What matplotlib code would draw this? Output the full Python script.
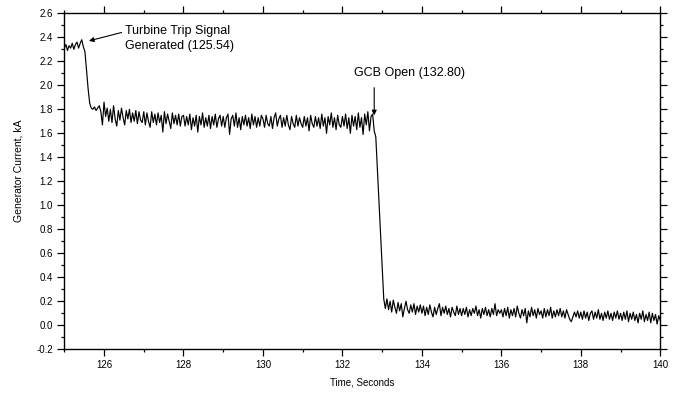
import matplotlib

matplotlib.use("Agg")
import matplotlib.pyplot as plt
import numpy as np
from matplotlib.ticker import MultipleLocator

# sampled generator current (kA), one sample every 0.04 s starting at 125.00 s
T_START = 125.0
T_STEP = 0.04

pre_trip = [2.31, 2.34, 2.29, 2.33, 2.31, 2.35, 2.30, 2.34, 2.36, 2.31,
            2.35, 2.38, 2.32, 2.28]
trip_drop = [2.12, 1.97, 1.85, 1.81]
plateau = [
    1.80, 1.82, 1.79, 1.81, 1.83, 1.78, 1.67,
    1.86, 1.74, 1.81, 1.70, 1.80, 1.69, 1.83, 1.72, 1.66, 1.79, 1.71, 1.81, 1.73,
    1.67, 1.79, 1.72, 1.80, 1.69, 1.77, 1.70, 1.79, 1.68, 1.78, 1.71, 1.69,
    1.78, 1.67, 1.77, 1.70, 1.65, 1.78, 1.69, 1.76, 1.67, 1.77, 1.69, 1.75, 1.61,
    1.78, 1.68, 1.76, 1.70, 1.64, 1.77, 1.68, 1.75, 1.67, 1.76, 1.66, 1.74,
    1.75, 1.66, 1.74, 1.67, 1.76, 1.63, 1.73, 1.66, 1.75, 1.61, 1.74, 1.67, 1.77,
    1.65, 1.73, 1.66, 1.75, 1.64, 1.74, 1.67, 1.76, 1.65, 1.72, 1.75, 1.66,
    1.74, 1.65, 1.73, 1.76, 1.59, 1.72, 1.75, 1.66, 1.77, 1.65, 1.73, 1.63, 1.74,
    1.67, 1.75, 1.66, 1.73, 1.64, 1.76, 1.67, 1.74, 1.65, 1.73, 1.66, 1.75,
    1.72, 1.65, 1.75, 1.68, 1.66, 1.74, 1.64, 1.73, 1.77, 1.66, 1.72, 1.75, 1.65,
    1.73, 1.66, 1.75, 1.67, 1.63, 1.74, 1.68, 1.65, 1.75, 1.66, 1.73, 1.68,
    1.65, 1.74, 1.66, 1.73, 1.62, 1.75, 1.68, 1.65, 1.74, 1.66, 1.73, 1.64, 1.76,
    1.66, 1.73, 1.60, 1.74, 1.67, 1.77, 1.65, 1.73, 1.63, 1.75, 1.67, 1.65,
    1.74, 1.66, 1.76, 1.64, 1.73, 1.60, 1.75, 1.66, 1.74, 1.63, 1.77, 1.65, 1.73,
    1.59, 1.76, 1.67, 1.78, 1.62, 1.74, 1.76,
]
gcb_drop = [1.62, 1.57, 1.30, 1.04, 0.77, 0.50, 0.22, 0.14]
tail = [
    0.22, 0.13, 0.20, 0.11, 0.21, 0.15, 0.10, 0.19, 0.12, 0.18, 0.07, 0.14, 0.20,
    0.13, 0.10, 0.17, 0.11, 0.18, 0.09, 0.16, 0.11, 0.17,
    0.10, 0.16, 0.08, 0.15, 0.09, 0.17, 0.11, 0.07, 0.15, 0.09, 0.14, 0.18, 0.08,
    0.15, 0.10, 0.16, 0.09, 0.14, 0.07, 0.15, 0.11, 0.08, 0.16, 0.09, 0.14,
    0.08, 0.14, 0.09, 0.15, 0.07, 0.13, 0.08, 0.14, 0.10, 0.16, 0.08, 0.13, 0.06,
    0.14, 0.09, 0.15, 0.08, 0.13, 0.07, 0.14, 0.09, 0.18, 0.08, 0.13, 0.10,
    0.13, 0.07, 0.14, 0.08, 0.15, 0.06, 0.13, 0.08, 0.14, 0.07, 0.16, 0.10, 0.06,
    0.13, 0.08, 0.14, 0.02, 0.12, 0.07, 0.15, 0.08, 0.13, 0.06, 0.14, 0.09,
    0.12, 0.06, 0.14, 0.07, 0.13, 0.08, 0.15, 0.06, 0.12, 0.07, 0.13, 0.08, 0.14,
    0.07, 0.12, 0.06, 0.13, 0.09, 0.05, 0.03, 0.07, 0.11, 0.07, 0.12, 0.06,
    0.11, 0.05, 0.12, 0.06, 0.11, 0.04, 0.10, 0.12, 0.05, 0.11, 0.06, 0.13, 0.05,
    0.10, 0.04, 0.11, 0.06, 0.12, 0.05, 0.10, 0.04, 0.11, 0.06, 0.12, 0.05,
    0.10, 0.04, 0.11, 0.05, 0.12, 0.03, 0.10, 0.05, 0.11, 0.04, 0.09, 0.02, 0.10,
    0.05, 0.12, 0.03, 0.09, 0.04, 0.11, 0.02, 0.10, 0.04, 0.09, 0.01, 0.08, 0.04,
]

TRIP_TIME = 125.54
GCB_TIME = 132.80

plt.rcParams["font.family"] = ["Liberation Sans", "DejaVu Sans"]

current = np.array(pre_trip + trip_drop + plateau + gcb_drop + tail)
time = T_START + T_STEP * np.arange(len(current))

fig = plt.figure(figsize=(6.81, 3.97), dpi=100)
ax = fig.add_axes([0.0944, 0.1202, 0.8752, 0.8463])

ax.plot(time, current, color="black", lw=0.85)

ax.set_xlim(125, 140)
ax.set_ylim(-0.2, 2.6)
ax.xaxis.set_major_locator(MultipleLocator(2))
ax.xaxis.set_minor_locator(MultipleLocator(1))
ax.yaxis.set_major_locator(MultipleLocator(0.2))
ax.yaxis.set_minor_locator(MultipleLocator(0.1))
ax.set_xticks([126, 128, 130, 132, 134, 136, 138, 140])
ax.yaxis.set_major_formatter(plt.FormatStrFormatter("%.1f"))

ax.tick_params(which="both", direction="out", top=True, right=True,
               labelsize=7, width=0.9)
ax.tick_params(which="major", length=5, pad=3)
ax.tick_params(which="minor", length=2.5)
for side in ax.spines.values():
    side.set_linewidth(1.0)

ax.set_xlabel("Time, Seconds", fontsize=7, labelpad=5)
ax.set_ylabel("Generator Current, kA", fontsize=7.5, labelpad=10)
ax.yaxis.set_label_coords(-0.068, 0.53)

arrow = dict(arrowstyle="-|>", color="black", lw=0.8, mutation_scale=7,
             shrinkA=0, shrinkB=0)
ax.annotate("", xy=(125.62, 2.37), xytext=(126.44, 2.44), arrowprops=arrow)
ax.text(126.53, 2.39, f"Turbine Trip Signal\nGenerated ({TRIP_TIME:.2f})",
        fontsize=9, ha="left", va="center", linespacing=1.25)

ax.annotate("", xy=(GCB_TIME, 1.75), xytext=(GCB_TIME, 1.98), arrowprops=arrow)
ax.text(133.68, 2.10, f"GCB Open ({GCB_TIME:.2f})", fontsize=9,
        ha="center", va="center")

fig.savefig("out.png", dpi=100)
